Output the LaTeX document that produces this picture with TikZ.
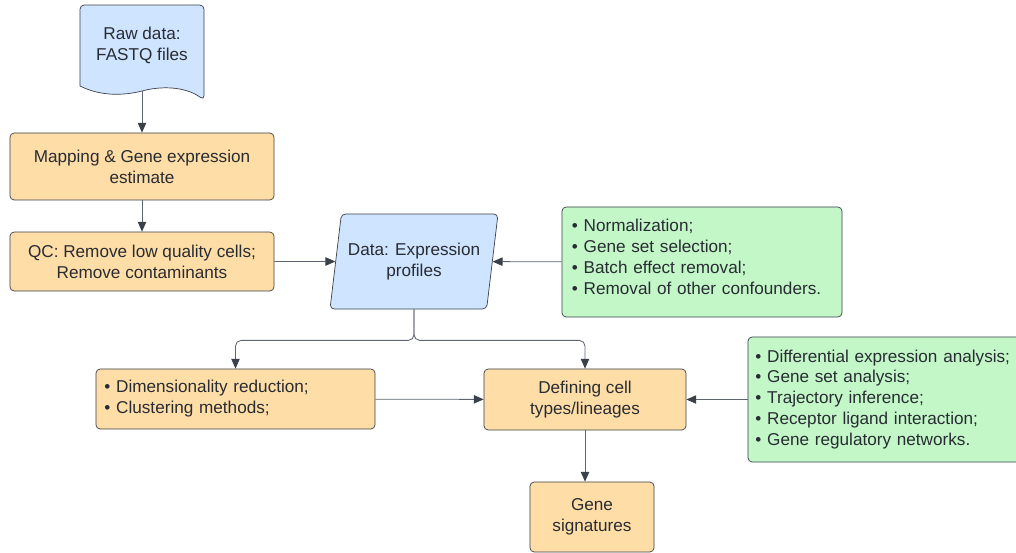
\documentclass[tikz,border=0pt]{standalone}
\usepackage{fontspec}
\setmainfont{Liberation Sans}
\usetikzlibrary{positioning}
\usetikzlibrary{shapes.geometric}
\usetikzlibrary{arrows.meta}

\definecolor{boxorange}{HTML}{FFDDA6}
\definecolor{boxblue}{HTML}{CFE4FF}
\definecolor{boxgreen}{HTML}{C3F7C8}
\definecolor{rim}{HTML}{3A414A}
\definecolor{ink}{HTML}{282C33}
\definecolor{wire}{HTML}{5E6570}

\tikzset{
	box/.style={draw=rim, line width=0.5pt, rounded corners=3pt, fill=boxorange, text=ink, align=center, font=\fontsize{12.2}{14.9}\selectfont, inner sep=2pt},
	notebox/.style={box, fill=boxgreen, align=left},
	databox/.style={box, fill=boxblue, trapezium, trapezium left angle=75, trapezium right angle=105, trapezium stretches body=true},
	flow/.style={wire, line width=0.6pt, -{Triangle[length=7pt,width=6pt,color=rim]}}
}

\begin{document}
\begin{tikzpicture}[x=0.025cm, y=-0.025cm]
			\useasboundingbox (0,0) rectangle (1016,552);
			\filldraw[fill=boxblue, draw=rim, line width=0.5pt, rounded corners=3pt] (80,86) -- (80,5) -- (204,5) -- (204,100) [sharp corners] .. controls (185,86) and (160,86) .. (142,91) .. controls (122,96) and (100,96) .. (80,86) -- cycle;
			\node[text=ink, align=center, font=\fontsize{12.2}{14.9}\selectfont] (raw) at (142,45) {Raw data:\\FASTQ files};
			\coordinate (rawend) at (142,91);
			\node[box, minimum width=6.6cm, minimum height=1.675cm] (map) at (142,166.5) {Mapping \& Gene expression\\estimate};
			\node[box, minimum width=6.6cm, minimum height=1.475cm] (qc) at (142,261.5) {QC: Remove low quality cells;\\Remove contaminants};
			\node[databox, minimum width=4.2cm, minimum height=2.375cm] (expr) at (414,261.5) {Data: Expression\\profiles};
			\node[notebox, minimum width=7cm, minimum height=2.75cm, text width=6.5cm] (prep) at (702,262) {\textbullet\ Normalization;\\\textbullet\ Gene set selection;\\\textbullet\ Batch effect removal;\\\textbullet\ Removal of other confounders.\\[-8pt]\mbox{}};
			\node[box, align=left, minimum width=6.975cm, minimum height=1.5cm, text width=6.55cm] (dimred) at (235.5,399) {\textbullet\ Dimensionality reduction;\\\textbullet\ Clustering methods;};
			\node[box, minimum width=5.05cm, minimum height=1.525cm] (celltype) at (585,399.5) {Defining cell\\types/lineages};
			\node[notebox, minimum width=6.875cm, minimum height=3.125cm, text width=6.5cm] (analysis) at (885.5,399.5) {\textbullet\ Differential expression analysis;\\\textbullet\ Gene set analysis;\\\textbullet\ Trajectory inference;\\\textbullet\ Receptor ligand interaction;\\\textbullet\ Gene regulatory networks.};
			\node[box, minimum width=3.1cm, minimum height=1.75cm] (genesig) at (592,517) {Gene\\signatures};
			\draw[flow] (rawend) -- (map);
			\draw[flow] (map) -- (qc);
			\draw[flow] (qc) -- (expr);
			\draw[flow] (prep) -- (expr);
			\draw[flow, rounded corners=4pt] (expr.south) -- ++(0,31) -| (dimred.north);
			\draw[flow, rounded corners=4pt] (expr.south) -- ++(0,31) -| (celltype.north);
			\draw[flow] (dimred) -- (celltype);
			\draw[flow] (analysis) -- (celltype);
			\draw[flow] (celltype.south) -- (celltype.south |- genesig.north);
		\end{tikzpicture}
\end{document}
